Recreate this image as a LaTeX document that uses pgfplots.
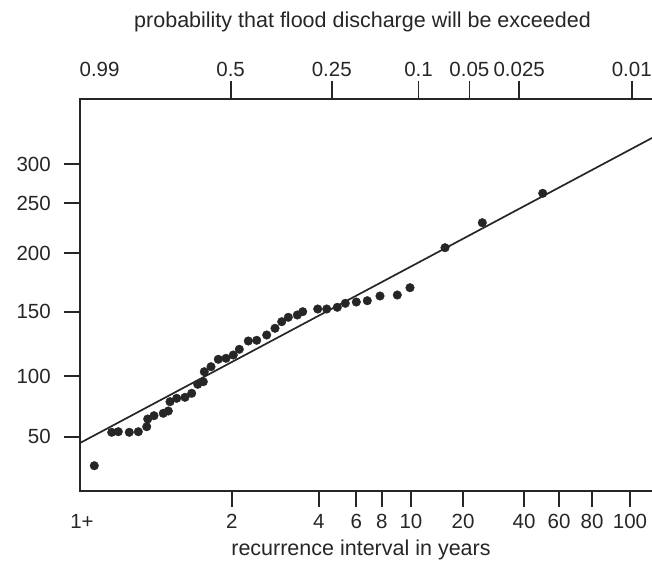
\documentclass[border=0pt]{standalone}
\usepackage{fontspec}
\setmainfont{Liberation Sans}
\usepackage{pgfplots}
\pgfplotsset{compat=1.18}
\definecolor{ink}{gray}{0.15}
\begin{document}
\fontsize{21.5}{25}\selectfont
\begin{tikzpicture}[x=1pt,y=1pt]
% main axis: bottom (recurrence interval) and left (discharge)
\begin{axis}[
  at={(80pt,74pt)}, anchor=south west,
  x=1pt, y=1pt,
  xmin=80, xmax=660, ymin=74, ymax=466,
  axis line style={ink, line width=1.9pt},
  tick align=outside,
  major tick length=16pt,
  tick style={ink, line width=1.8pt},
  xtick pos=bottom, ytick pos=left,
  /pgf/number format/assume math mode=true,
  tick label style={font=\fontsize{20.5}{24}\selectfont},
  xtick={231.7,318.9,356.2,381.9,410.9,463,524,559,592,630},
  xticklabels={2,4,6,8,10,20,40,60,80,100},
  extra x ticks={82},
  extra x tick labels={1+},
  extra x tick style={tick style={draw=none}},
  ytick={128.3,189,253.3,311.7,361.7,401},
  yticklabels={50,100,150,200,250,300},
  xticklabel style={inner sep=0pt, anchor=north, text=ink},
  yticklabel style={inner sep=0pt, anchor=east, text=ink},
  xticklabel shift=7pt,
  yticklabel shift=13pt,
  xlabel={recurrence interval in years},
  xlabel style={at={(axis description cs:0.4845,-0.151)}, anchor=center, inner sep=0pt, text=ink},
]
\addplot[only marks, mark=*, mark size=4.3pt, mark options={fill=ink, draw=ink}] coordinates {
(94.3,99.3) (111.7,132.7) (118.3,133.3) (129.3,132.7) (138.3,133.3)
(146.7,138.3) (147.7,146) (154,149.3) (163.3,151.7) (168.3,154)
(170,163.3) (176.7,166.7) (185,167.7) (191.7,171.7) (197.7,180.7)
(203.3,183.3) (204.3,193.3) (211,198.3) (218.3,205.7) (226,206.7)
(233.3,210) (239.3,215.7) (248.3,224) (256.7,224.7) (266.7,230)
(275,236.7) (281.7,243.3) (288.3,247.7) (297.3,250) (302.7,253.3)
(317.7,256) (326.7,256) (337.3,257.7) (345.3,261.7) (356.3,263)
(367.3,264.3) (380,269) (397.3,270) (410,277.3) (445,317.3)
(482.3,342.3) (542.7,371.7)
};
\addplot[ink, line width=1.7pt] coordinates {(80,122) (660,431.3)};
\end{axis}
% top axis: exceedance probability
\begin{axis}[
  at={(80pt,74pt)}, anchor=south west,
  x=1pt, y=1pt,
  xmin=80, xmax=660, ymin=74, ymax=466,
  axis x line*=top, axis y line=none,
  axis line style={ink, line width=1.9pt},
  tick align=outside,
  major tick length=18pt,
  tick style={ink, line width=1.8pt},
  /pgf/number format/assume math mode=true,
  tick label style={font=\fontsize{20.5}{24}\selectfont},
  xtick={230.6,331.7,418.5,469.4,519.2,631.7},
  xticklabels={0.5,0.25,0.1,0.05,0.025,0.01},
  extra x ticks={99.6},
  extra x tick labels={0.99},
  extra x tick style={tick style={draw=none}},
  xticklabel style={inner sep=0pt, anchor=south, text=ink},
  xticklabel shift=4pt,
  xlabel={probability that flood discharge will be exceeded},
  xlabel style={at={(axis description cs:0.4871,1.196)}, anchor=center, inner sep=0pt, text=ink},
]
\end{axis}
\pgfresetboundingbox
\useasboundingbox (0,0) rectangle (652,565);
\end{tikzpicture}
\end{document}
